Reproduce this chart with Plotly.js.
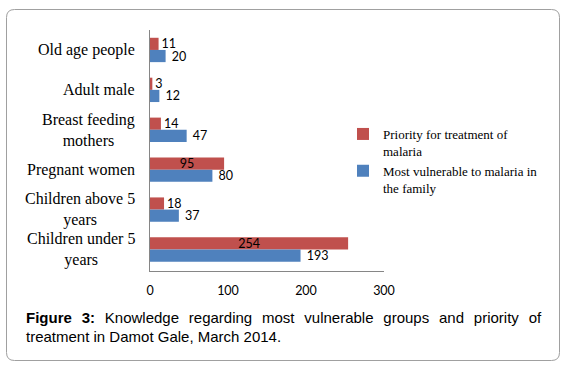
<!DOCTYPE html>
<html><head><meta charset="utf-8">
<script src="https://cdn.plot.ly/plotly-3.0.1.min.js"></script>
<style>html,body{margin:0;padding:0;background:#fff;}#chart{width:567px;height:366px;}</style>
</head><body><div id="chart"></div>
<script>
const categories = ["Old age people","Adult male","Breast feeding mothers","Pregnant women","Children above 5 years","Children under 5 years"];
const categoryLabels = ["Old age people","Adult male","Breast feeding<br>mothers","Pregnant women","Children above 5<br>years","Children under 5<br>years"];
const priorityValues = [11,3,14,95,18,254];
const vulnerableValues = [20,12,47,80,37,193];
const seriesNames = ["Priority for treatment of<br>malaria","Most vulnerable to malaria in<br>the family"];
const xTickValues = [0,100,200,300];
const captionLine1 = "<b>Figure 3:</b> Knowledge regarding most vulnerable groups and priority of";
const captionLine2 = "treatment in Damot Gale, March 2014.";

const W = 567, H = 366;
const M = {l:150, r:183, t:30, b:95};
const pw = W - M.l - M.r, ph = H - M.t - M.b;
const px = v => (v - M.l) / pw;
const py = v => (H - M.b - v) / ph;

const labelFont = {family:"Lato, 'Open Sans', sans-serif", size:12.5, color:"#000"};

const traces = [
  {type:"bar", orientation:"h", name:seriesNames[0], y:categories, x:priorityValues,
   marker:{color:"#C0504D"}, texttemplate:"%{x}", textangle:0,
   textposition: priorityValues.map(v => v > 50 ? "inside" : "outside"),
   insidetextanchor:"middle", textfont:labelFont, insidetextfont:labelFont, outsidetextfont:labelFont,
   cliponaxis:false, hoverinfo:"none"},
  {type:"bar", orientation:"h", name:seriesNames[1], y:categories, x:vulnerableValues,
   marker:{color:"#4F81BD"}, texttemplate:"\u00A0%{x}", textposition:"outside", textangle:0,
   textfont:labelFont, outsidetextfont:labelFont, cliponaxis:false, hoverinfo:"none"}
];

// rounded border
const bl = 6.5, br = 559.5, bt = 9.5, bb = 360.5, rad = 8;
const pth = [
  `M${px(bl+rad)},${py(bt)}`, `L${px(br-rad)},${py(bt)}`, `Q${px(br)},${py(bt)} ${px(br)},${py(bt+rad)}`,
  `L${px(br)},${py(bb-rad)}`, `Q${px(br)},${py(bb)} ${px(br-rad)},${py(bb)}`,
  `L${px(bl+rad)},${py(bb)}`, `Q${px(bl)},${py(bb)} ${px(bl)},${py(bb-rad)}`,
  `L${px(bl)},${py(bt+rad)}`, `Q${px(bl)},${py(bt)} ${px(bl+rad)},${py(bt)}`, "Z"
].join(" ");

const annotations = categories.map((c, i) => ({
  xref:"paper", yref:"y", x:px(137), y:c, xanchor:"right", yanchor:"middle", align:"center",
  text:categoryLabels[i], showarrow:false,
  font:{family:"'Liberation Serif', 'Times New Roman', serif", size:16, color:"#000"}
}));
annotations.push({xref:"paper", yref:"paper", x:px(24), y:py(317), xanchor:"left", yanchor:"middle", align:"left",
  text:captionLine1, showarrow:false, font:{family:"'Liberation Sans', Arial, sans-serif", size:15, color:"#000"}});
annotations.push({xref:"paper", yref:"paper", x:px(24), y:py(336), xanchor:"left", yanchor:"middle", align:"left",
  text:captionLine2, showarrow:false, font:{family:"'Liberation Sans', Arial, sans-serif", size:15, color:"#000"}});

const layout = {
  width:W, height:H, margin:{l:M.l, r:M.r, t:M.t, b:M.b, pad:0},
  paper_bgcolor:"#fff", plot_bgcolor:"#fff",
  barmode:"group", bargap:0.39, bargroupgap:0,
  uniformtext:{mode:"show", minsize:12.5},
  showlegend:true,
  legend:{x:px(343), y:py(119), xanchor:"left", yanchor:"top", valign:"top",
    font:{family:"'Liberation Serif', 'Times New Roman', serif", size:13, color:"#000"},
    bgcolor:"rgba(0,0,0,0)", traceorder:"normal", itemclick:false, itemdoubleclick:false},
  xaxis:{range:[0,300], tickvals:xTickValues, ticktext:xTickValues.map(String), showgrid:false, zeroline:false,
    showline:true, linecolor:"#868686", linewidth:1, ticks:"", ticklabelstandoff:8,
    tickfont:labelFont, fixedrange:true},
  yaxis:{type:"category", categoryorder:"array", categoryarray:categories, autorange:"reversed",
    showticklabels:false, showgrid:false, zeroline:false, showline:true, linecolor:"#868686", linewidth:1,
    ticks:"", fixedrange:true},
  shapes:[{type:"path", xref:"paper", yref:"paper", path:pth, line:{color:"#A0A0A0", width:1}, fillcolor:"rgba(0,0,0,0)", layer:"below"}],
  annotations:annotations
};

Plotly.newPlot("chart", traces, layout, {staticPlot:true, displayModeBar:false}).then(() => {
  const texts = document.querySelectorAll(".annotation-text");
  texts.forEach(t => {
    if (t.textContent.indexOf("Figure 3:") === 0) {
      const w = t.getBBox().width;
      const gaps = t.textContent.trim().split(/\s+/).length - 1;
      const target = 540 - 24;
      t.style.wordSpacing = ((target - w) / gaps) + "px";
    }
  });
});
</script>
</body></html>
